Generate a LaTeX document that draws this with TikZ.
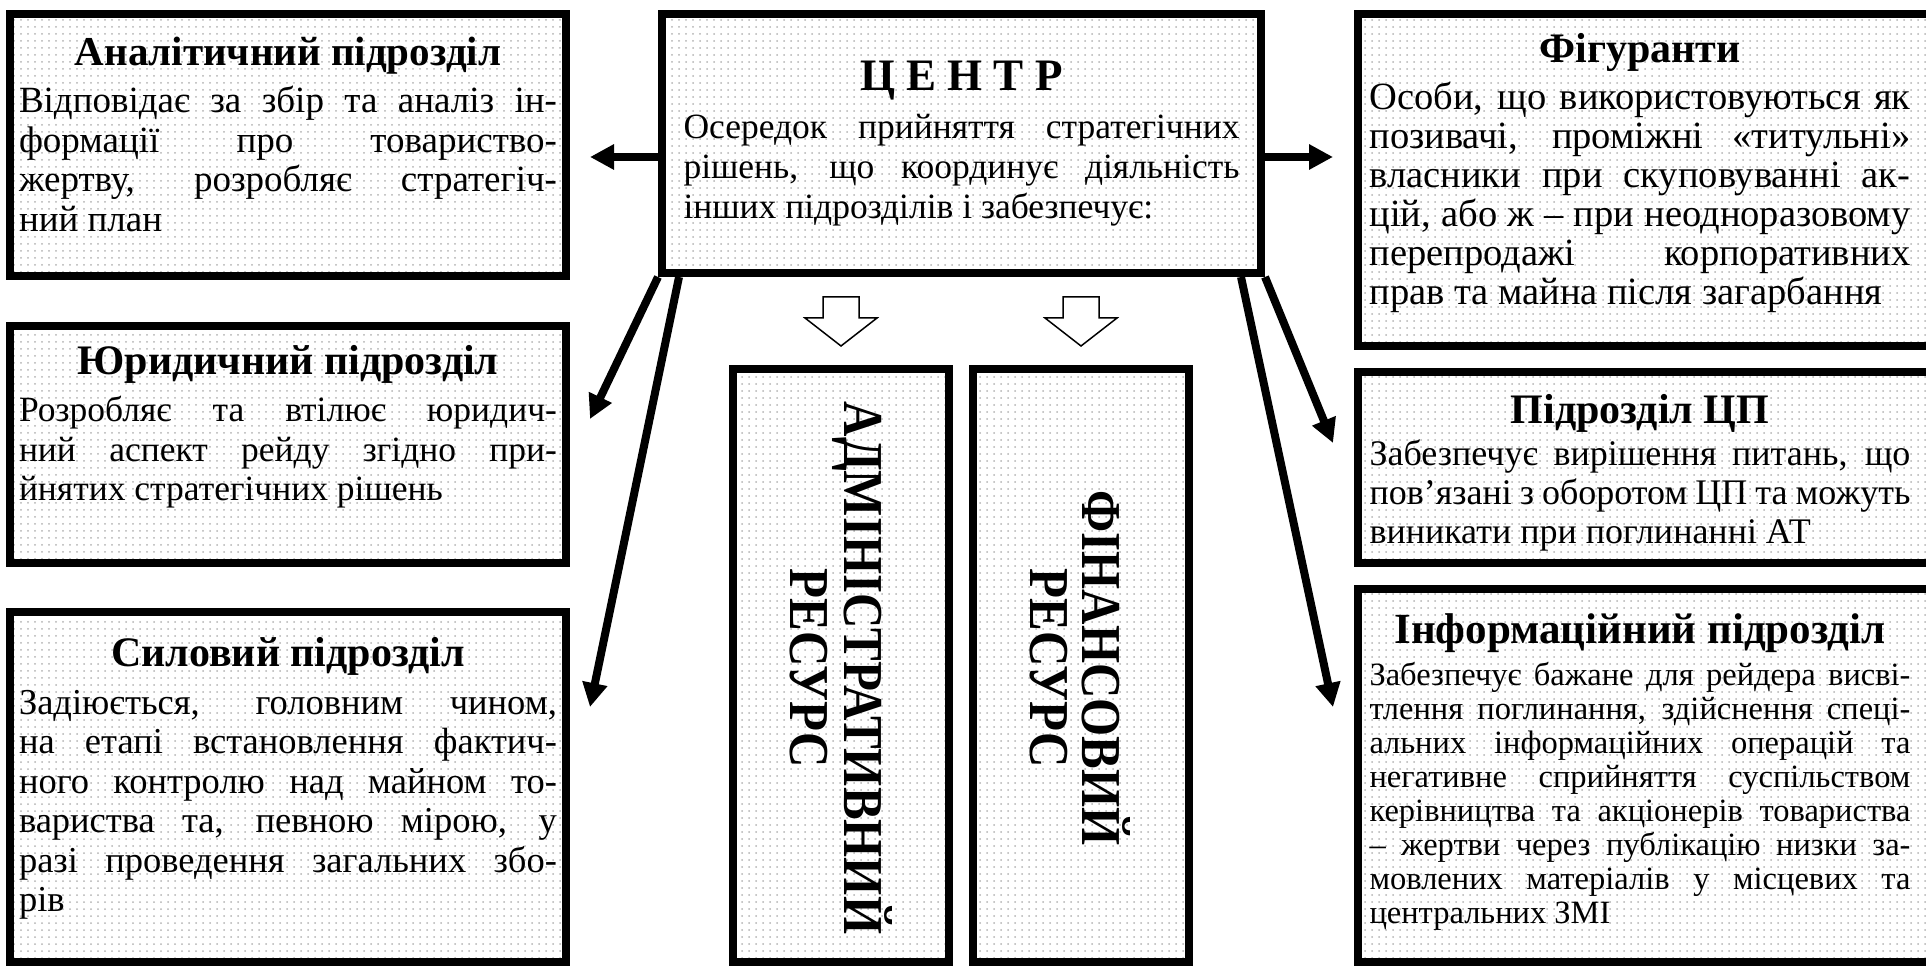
\documentclass[tikz,border=0pt]{standalone}
\usepackage{fontspec}
\setmainfont{Liberation Serif}
\usetikzlibrary{arrows.meta,patterns.meta}
\newcommand\boxtitle[2][42]{{\centering\bfseries\fontsize{#1}{#1}\selectfont #2\par}\kern8pt}

\begin{document}
\begin{tikzpicture}[x=1pt,y=1pt,
  panel/.style={draw, line width=8pt, pattern={Dots[radius=1pt,distance=7pt]}, pattern color=black!30,
    inner sep=0pt, font=\fontsize{37}{39.5}\selectfont},
  restext/.style={font=\bfseries\fontsize{49}{49}\selectfont, inner sep=0pt, rotate=-90, yscale=1.15},
  conn/.style={line width=8pt, -{Triangle[length=24pt,width=24pt]}},
  hollow/.style={draw, line width=1.5pt, fill=white}]
  \useasboundingbox (0,0) rectangle (1926,972);

  % left column
  \node[panel, align=justify, minimum width=556pt, minimum height=262pt, text width=538pt] (analit) at (288,827)
    {\boxtitle[41]{Аналітичний підрозділ}Відповідає за збір та аналіз ін-\linebreak
     формації про товариство-\linebreak жертву, розробляє стратегіч-\linebreak ний план\par\kern22pt};
  \node[panel, align=justify, minimum width=556pt, minimum height=237pt, text width=538pt,
        font=\fontsize{35.5}{39.5}\selectfont] (legal) at (288,527.5)
    {\boxtitle{Юридичний підрозділ}Розробляє та втілює юридич-\linebreak
     ний аспект рейду згідно при-\linebreak йнятих стратегічних рішень\par\kern36pt};
  \node[panel, align=justify, minimum width=556pt, minimum height=350pt, text width=538pt,
        font=\fontsize{36.5}{39.5}\selectfont] (force) at (288,185)
    {\boxtitle{Силовий підрозділ}Задіюється, головним чином,\linebreak
     на етапі встановлення фактич-\linebreak ного контролю над майном то-\linebreak
     вариства та, певною мірою, у\linebreak разі проведення загальних збо-\linebreak рів\par\kern17pt};

  % centre and resources
  \node[panel, align=justify, minimum width=599pt, minimum height=259pt, text width=556pt,
        font=\fontsize{35.5}{40}\selectfont] (centre) at (961.5,828.5)
    {\boxtitle[45]{Ц Е Н Т Р}Осередок прийняття стратегічних\linebreak
     рішень, що координує діяльність\linebreak інших підрозділів і забезпечує:};
  \node[panel, minimum width=216pt, minimum height=593pt] (admin) at (841,306.5) {};
  \node[panel, minimum width=216pt, minimum height=593pt] (fin) at (1081,306.5) {};
  \node[restext] (adm1) at ([xshift=21pt,yshift=-303pt]admin.north) {АДМІНІСТРАТИВНИЙ};
  \node[restext] (adm2) at ([xshift=-32pt,yshift=-303pt]admin.north) {РЕСУРС};
  \node[restext] (fin1) at ([xshift=25pt,yshift=-303pt]fin.north) {ФІНАНСОВИЙ};
  \node[restext] (fin2) at ([xshift=-32pt,yshift=-303pt]fin.north) {РЕСУРС};

  % right column (right edges run off the page)
  \node[panel, minimum width=577pt, minimum height=332pt,
        font=\fontsize{38.5}{39}\selectfont] (fig) at (1646.5,792)
    {\hspace*{-13pt}\parbox{541pt}{\boxtitle{Фігуранти}Особи, що використовуються як\linebreak
     позивачі, проміжні «титульні»\linebreak власники при скуповуванні ак-\linebreak
     цій, або ж – при неодноразовому\linebreak перепродажі корпоративних\linebreak
     прав та майна після загарбання\par\kern14pt}};
  \node[panel, minimum width=577pt, minimum height=191pt,
        font=\fontsize{36}{39}\selectfont] (cp) at (1646.5,504.5)
    {\hspace*{-13pt}\parbox{541pt}{\boxtitle{Підрозділ ЦП}\kern-5pt Забезпечує вирішення питань, що\linebreak
     пов’язані з оборотом ЦП та можуть\linebreak виникати при поглинанні АТ\par\kern-10pt}};
  \node[panel, minimum width=577pt, minimum height=373pt,
        font=\fontsize{32.5}{34}\selectfont] (info) at (1646.5,196.5)
    {\hspace*{-13pt}\parbox{541pt}{\boxtitle[43]{Інформаційний підрозділ}Забезпечує бажане для рейдера висві-\linebreak
     тлення поглинання, здійснення спеці-\linebreak альних інформаційних операцій та\linebreak
     негативне сприйняття суспільством\linebreak керівництва та акціонерів товариства\linebreak
     – жертви через публікацію низки за-\linebreak мовлених матеріалів у місцевих та\linebreak
     центральних ЗМІ\par\kern6pt}};

  % arrow tips
  \coordinate (tipA) at (590,815);
  \coordinate (tipF) at (1333,815);
  \coordinate (tipL) at (590,553);
  \coordinate (tipS) at (590,265);
  \coordinate (tipC) at (1333,529);
  \coordinate (tipI) at (1333,265);

  \draw[conn] (centre.west |- tipA) -- (tipA);
  \draw[conn] (centre.east |- tipF) -- (tipF);
  \draw[conn] (centre.south west) -- (tipL);
  \draw[conn] ([xshift=21pt]centre.south west) -- (tipS);
  \draw[conn] (centre.south east) -- (tipC);
  \draw[conn] ([xshift=-24pt]centre.south east) -- (tipI);

  \foreach \b in {admin,fin}
    \draw[hollow] ([yshift=19pt]\b.north) -- ++(36,28) -- ++(-18,0) -- ++(0,21)
      -- ++(-36,0) -- ++(0,-21) -- ++(-18,0) -- cycle;
\end{tikzpicture}
\end{document}
